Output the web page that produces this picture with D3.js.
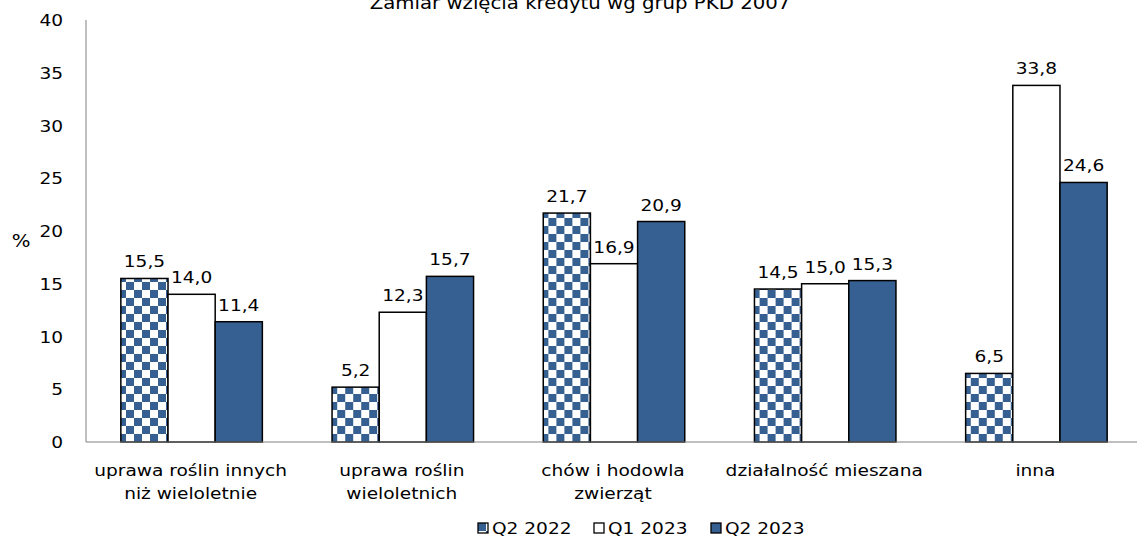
<!DOCTYPE html>
<html>
<head>
<meta charset="utf-8">
<script src="https://cdn.jsdelivr.net/npm/d3@7/dist/d3.min.js"></script>
<style>
  html, body { margin: 0; padding: 0; background: #fff; }
  svg { display: block; }
  text { font-family: "DejaVu Sans", Verdana, sans-serif; fill: #000; }
</style>
</head>
<body>
<svg id="chart" width="1137" height="544"></svg>
<script>
const title = "Zamiar wzięcia kredytu wg grup PKD 2007";
const categories = [
  ["uprawa roślin innych", "niż wieloletnie"],
  ["uprawa roślin", "wieloletnich"],
  ["chów i hodowla", "zwierząt"],
  ["działalność mieszana"],
  ["inna"]
];
const seriesNames = ["Q2 2022", "Q1 2023", "Q2 2023"];
const q2_2022 = [15.5, 5.2, 21.7, 14.5, 6.5];
const q1_2023 = [14.0, 12.3, 16.9, 15.0, 33.8];
const q2_2023 = [11.4, 15.7, 20.9, 15.3, 24.6];
const yTicks = [0, 5, 10, 15, 20, 25, 30, 35, 40];

const seriesValues = [q2_2022, q1_2023, q2_2023];
const blue = "#376092";
const fills = ["url(#checker)", "#ffffff", blue];
const sx = 1.16; // horizontal stretch of the reference's text

const svg = d3.select("#chart");
const margin = { left: 86, top: 20, bottom: 442 };
const plotRight = 1142;

function txt(parent, x, y, s, size, anchor) {
  return parent.append("text")
    .attr("transform", `translate(${x},${y}) scale(${sx},1)`)
    .attr("text-anchor", anchor || "middle")
    .attr("font-size", size)
    .text(s);
}

const defs = svg.append("defs");
function checker(id, tx, ty) {
  const p = defs.append("pattern").attr("id", id)
    .attr("patternUnits", "userSpaceOnUse").attr("width", 16).attr("height", 16)
    .attr("patternTransform", `translate(${tx},${ty})`);
  p.append("rect").attr("width", 16).attr("height", 16).attr("fill", "#fff");
  p.append("rect").attr("x", 0).attr("y", 0).attr("width", 8).attr("height", 8).attr("fill", blue);
  p.append("rect").attr("x", 8).attr("y", 8).attr("width", 8).attr("height", 8).attr("fill", blue);
}
checker("checker", 120, 442);

const x0 = d3.scaleBand().domain(d3.range(categories.length))
  .range([margin.left, plotRight]).paddingInner(0).paddingOuter(0);
const innerPad = 0.165;
const x1 = d3.scaleBand().domain(d3.range(seriesNames.length))
  .range([x0.bandwidth() * innerPad, x0.bandwidth() * (1 - innerPad)]);
const y = d3.scaleLinear().domain([0, 40]).range([margin.bottom, margin.top]);

// title (clipped at the top as in the reference)
txt(svg, 580, 9, title, 17);

// y tick labels
yTicks.forEach(t => txt(svg, 63, y(t) + 6, t, 16, "end"));
txt(svg, 21, 247, "%", 17);

// bars
const groups = svg.append("g").selectAll("g").data(categories).join("g")
  .attr("transform", (d, i) => `translate(${x0(i)},0)`);

groups.each(function(cat, ci) {
  const g = d3.select(this);
  seriesValues.forEach((vals, si) => {
    const v = vals[ci];
    g.append("rect")
      .attr("x", x1(si)).attr("y", y(v))
      .attr("width", x1.bandwidth()).attr("height", y(0) - y(v))
      .attr("fill", fills[si]).attr("stroke", "#000").attr("stroke-width", 1.5);
    txt(g, x1(si) + x1.bandwidth() / 2, y(v) - 11, d3.format(".1f")(v).replace(".", ","), 16);
  });
  cat.forEach((line, li) => txt(g, x0.bandwidth() / 2 - 1, 476 + li * 23, line, 16));
});

// axes lines
svg.append("line").attr("x1", margin.left).attr("x2", margin.left)
  .attr("y1", y(40)).attr("y2", y(0)).attr("stroke", "#808080").attr("stroke-width", 1);
svg.append("line").attr("x1", margin.left).attr("x2", plotRight)
  .attr("y1", y(0)).attr("y2", y(0)).attr("stroke", "#808080").attr("stroke-width", 1);

// legend
const legendX = [478, 594, 711];
checker("checkerLegend", legendX[0], 523);
const legendFills = ["url(#checkerLegend)", "#fff", blue];
seriesNames.forEach((name, i) => {
  svg.append("rect").attr("x", legendX[i]).attr("y", 523).attr("width", 10).attr("height", 10)
    .attr("fill", legendFills[i]).attr("stroke", "#000").attr("stroke-width", 1.3);
  txt(svg, legendX[i] + 14, 534, name, 16, "start");
});
</script>
</body>
</html>
